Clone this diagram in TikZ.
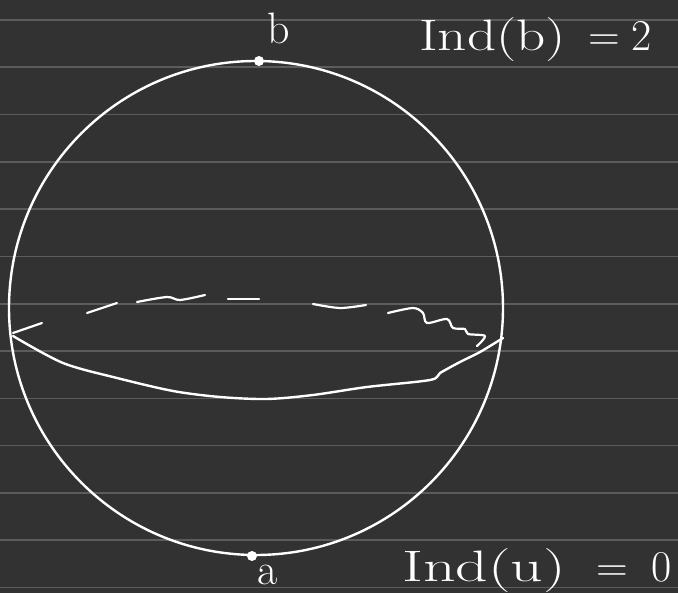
\documentclass[tikz,border=0pt]{standalone}
\usepackage{graphicx}
\definecolor{slate}{HTML}{323232}
\definecolor{ruling}{HTML}{5C5C5C}
\begin{document}
\begin{tikzpicture}[x = 1pt, y = -1pt,
    chalk/.style = {white, line width = 2.4pt, line cap = round, line join = round},
    dotmark/.style = {circle, fill = white, inner sep = 0pt, minimum size = 10pt},
    hand/.style = {white, inner sep = 0pt, font = \fontsize{44}{48}\selectfont}]
    \fill [slate] (0,0) rectangle (678,593);
    \useasboundingbox (0,0) rectangle (678,593);
    \foreach \i in {0, ..., 12}
      \draw [ruling, line width = 1.6pt] (0, {20 + 47.3*\i}) -- (678, {20 + 47.3*\i});
    % sphere and poles
    \node [circle, draw = white, line width = 2.4pt, minimum size = 494pt, inner sep = 0pt] (sphere) at (256,308) {};
    \node [dotmark] (b) at (259,61) {};
    \node [dotmark] (a) at (252,556) {};
    \node [hand, anchor = base] (blabel) at (279,44) {b};
    \node [hand, anchor = base] (alabel) at (268,584) {a};
    \node [hand, anchor = base west] (indb) at (419,51)
      {\scalebox{1.3}[1]{Ind(b)}\hspace{22pt}=\hspace{12pt}2};
    \node [hand, anchor = base west] (inda) at (402,582)
      {\scalebox{1.45}[1]{Ind(u)}\hspace{30pt}=\hspace{24pt}0};
    % equator, front
    \draw [chalk] plot [smooth] coordinates {(13,336) (63,363) (117,378) (173,391) (220,397)
      (267,399) (313,395) (367,387) (430,380) (440,373) (460,362) (480,352) (503,338)};
    % equator, back (dashed by hand)
    \foreach \stroke in {{(13,333) (42,323)}, {(87,313) (117,303)},
        {(137,302) (167,297) (180,300) (205,295)}, {(228,299) (259,299)},
        {(313,304) (340,308) (366,305)},
        {(388,313) (413,308) (423,313) (427,323) (447,319) (453,328) (465,329) (468,334) (485,336) (477,346)}}
      \draw [chalk, line width = 2.2pt] plot [smooth] coordinates \stroke;
  \end{tikzpicture}
\end{document}
